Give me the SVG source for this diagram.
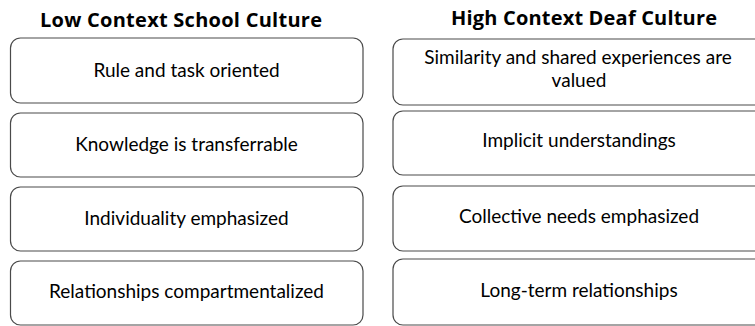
<svg xmlns="http://www.w3.org/2000/svg" width="755" height="326" viewBox="0 0 755 326">
<style>
.box{fill:#fff;stroke:#4a4a4a;stroke-width:1.2}
.t{font-family:Lato,"Open Sans",sans-serif;font-size:19px;fill:#000;text-anchor:middle}
.h{font-family:"Open Sans",Lato,sans-serif;font-weight:bold;font-size:20px;fill:#000;text-anchor:middle}
</style>
<rect width="755" height="326" fill="#fff"/>
<text class="h" x="181" y="27" textLength="282">Low Context School Culture</text>
<text class="h" x="584" y="25" textLength="266">High Context Deaf Culture</text>
<g id="l1"><rect class="box" x="10.5" y="38" width="352.5" height="65" rx="10"/><text class="t" x="186.5" y="77">Rule and task oriented</text></g>
<g id="l2"><rect class="box" x="10.5" y="113" width="352.5" height="64" rx="10"/><text class="t" x="186.5" y="151">Knowledge is transferrable</text></g>
<g id="l3"><rect class="box" x="10.5" y="187" width="352.5" height="64" rx="10"/><text class="t" x="186.5" y="225">Individuality emphasized</text></g>
<g id="l4"><rect class="box" x="10.5" y="261" width="352.5" height="64" rx="10"/><text class="t" x="186.5" y="298">Relationships compartmentalized</text></g>
<g id="r1"><rect class="box" x="393" y="39" width="372" height="66" rx="10"/><text class="t" x="578" y="64">Similarity and shared experiences are</text><text class="t" x="579" y="87">valued</text></g>
<g id="r2"><rect class="box" x="393" y="111" width="372" height="64" rx="10"/><text class="t" x="579" y="147">Implicit understandings</text></g>
<g id="r3"><rect class="box" x="393" y="186" width="372" height="65" rx="10"/><text class="t" x="579" y="223">Collective needs emphasized</text></g>
<g id="r4"><rect class="box" x="393" y="259" width="372" height="66" rx="10"/><text class="t" x="579" y="297">Long-term relationships</text></g>
<g id="connectors"/>
</svg>
